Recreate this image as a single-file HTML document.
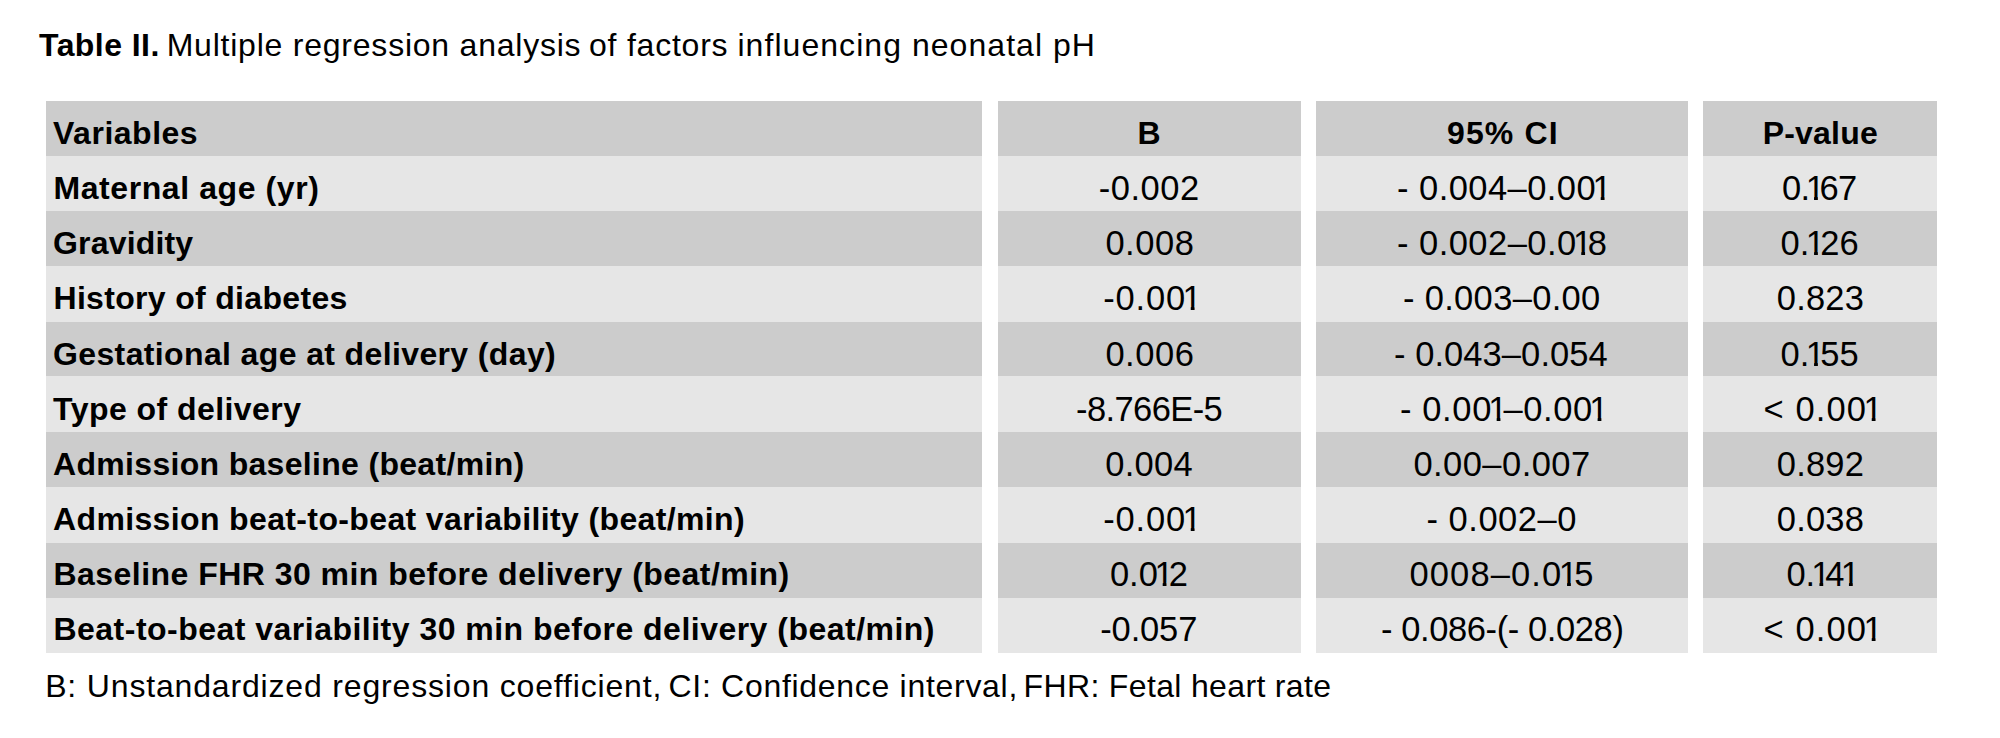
<!DOCTYPE html>
<html lang="en"><head><meta charset="utf-8"><title>Table II. Multiple regression analysis of factors influencing neonatal pH</title>
<style>
html,body{margin:0;padding:0;background:#fff;}
body{width:2000px;height:738px;position:relative;overflow:hidden;font-family:"Liberation Sans",sans-serif;font-size:32px;color:#000;}
.c{position:absolute;}
.d{background:#cccccc;}
.l{background:#e6e6e6;}
.t{position:absolute;white-space:pre;line-height:40px;height:40px;font-weight:400;}
.b{font-weight:700;}
.n{font-size:34.5px;}
.n i{font-style:normal;display:inline-block;margin:0 -4.75px 0 -3.6px;clip-path:polygon(0 0,100% 0,100% 28.7px,12.1px 28.7px,12.1px 40px,8.3px 40px,8.3px 28.7px,0 28.7px);}
</style></head><body>
<div class="c d" style="left:46px;top:101px;width:936px;height:55px"></div>
<div class="c d" style="left:998px;top:101px;width:303px;height:55px"></div>
<div class="c d" style="left:1316px;top:101px;width:372px;height:55px"></div>
<div class="c d" style="left:1703px;top:101px;width:234px;height:55px"></div>
<div class="c l" style="left:46px;top:156px;width:936px;height:55px"></div>
<div class="c l" style="left:998px;top:156px;width:303px;height:55px"></div>
<div class="c l" style="left:1316px;top:156px;width:372px;height:55px"></div>
<div class="c l" style="left:1703px;top:156px;width:234px;height:55px"></div>
<div class="c d" style="left:46px;top:211px;width:936px;height:55px"></div>
<div class="c d" style="left:998px;top:211px;width:303px;height:55px"></div>
<div class="c d" style="left:1316px;top:211px;width:372px;height:55px"></div>
<div class="c d" style="left:1703px;top:211px;width:234px;height:55px"></div>
<div class="c l" style="left:46px;top:266px;width:936px;height:56px"></div>
<div class="c l" style="left:998px;top:266px;width:303px;height:56px"></div>
<div class="c l" style="left:1316px;top:266px;width:372px;height:56px"></div>
<div class="c l" style="left:1703px;top:266px;width:234px;height:56px"></div>
<div class="c d" style="left:46px;top:322px;width:936px;height:54px"></div>
<div class="c d" style="left:998px;top:322px;width:303px;height:54px"></div>
<div class="c d" style="left:1316px;top:322px;width:372px;height:54px"></div>
<div class="c d" style="left:1703px;top:322px;width:234px;height:54px"></div>
<div class="c l" style="left:46px;top:376px;width:936px;height:56px"></div>
<div class="c l" style="left:998px;top:376px;width:303px;height:56px"></div>
<div class="c l" style="left:1316px;top:376px;width:372px;height:56px"></div>
<div class="c l" style="left:1703px;top:376px;width:234px;height:56px"></div>
<div class="c d" style="left:46px;top:432px;width:936px;height:55px"></div>
<div class="c d" style="left:998px;top:432px;width:303px;height:55px"></div>
<div class="c d" style="left:1316px;top:432px;width:372px;height:55px"></div>
<div class="c d" style="left:1703px;top:432px;width:234px;height:55px"></div>
<div class="c l" style="left:46px;top:487px;width:936px;height:56px"></div>
<div class="c l" style="left:998px;top:487px;width:303px;height:56px"></div>
<div class="c l" style="left:1316px;top:487px;width:372px;height:56px"></div>
<div class="c l" style="left:1703px;top:487px;width:234px;height:56px"></div>
<div class="c d" style="left:46px;top:543px;width:936px;height:55px"></div>
<div class="c d" style="left:998px;top:543px;width:303px;height:55px"></div>
<div class="c d" style="left:1316px;top:543px;width:372px;height:55px"></div>
<div class="c d" style="left:1703px;top:543px;width:234px;height:55px"></div>
<div class="c l" style="left:46px;top:598px;width:936px;height:55px"></div>
<div class="c l" style="left:998px;top:598px;width:303px;height:55px"></div>
<div class="c l" style="left:1316px;top:598px;width:372px;height:55px"></div>
<div class="c l" style="left:1703px;top:598px;width:234px;height:55px"></div>
<div class="t b" style="left:39.02px;top:25px;letter-spacing:0.445px">Table II. </div>
<div class="t" style="left:166.70px;top:25px;letter-spacing:0.773px">Multiple regression analysis </div>
<div class="t" style="left:588.98px;top:25px;letter-spacing:0.780px">of factors </div>
<div class="t" style="left:737.48px;top:25px;letter-spacing:1.046px">influencing neonatal pH</div>
<div class="t" style="left:45.20px;top:666px;letter-spacing:0.832px">B: Unstandardized regression coefficient, </div>
<div class="t" style="left:668.48px;top:666px;letter-spacing:0.705px">CI: Confidence interval, </div>
<div class="t" style="left:1023.58px;top:666px;letter-spacing:0.346px">FHR: Fetal heart rate</div>
<div class="t b" style="left:53.02px;top:113px;letter-spacing:0.513px">Variables</div>
<div class="t b" style="left:1137.46px;top:113px;letter-spacing:0.400px">B</div>
<div class="t b" style="left:1447.00px;top:113px;letter-spacing:1.120px">95% CI</div>
<div class="t b" style="left:1762.72px;top:113px;letter-spacing:0.190px">P-value</div>
<div class="t b" style="left:53.48px;top:168px;letter-spacing:0.580px">Maternal age (yr)</div>
<div class="t n" style="left:1098.74px;top:168px;letter-spacing:0.508px">-0.002</div>
<div class="t n" style="left:1397.12px;top:168px;letter-spacing:0.430px">- 0.004–0.00<i>1</i></div>
<div class="t n" style="left:1782.00px;top:168px;letter-spacing:-0.725px">0.<i>1</i>67</div>
<div class="t b" style="left:53.00px;top:223px;letter-spacing:0.175px">Gravidity</div>
<div class="t n" style="left:1105.38px;top:223px;letter-spacing:0.535px">0.008</div>
<div class="t n" style="left:1397.12px;top:223px;letter-spacing:0.445px">- 0.002–0.0<i>1</i>8</div>
<div class="t n" style="left:1780.50px;top:223px;letter-spacing:0.040px">0.<i>1</i>26</div>
<div class="t b" style="left:53.48px;top:278px;letter-spacing:0.320px">History of diabetes</div>
<div class="t n" style="left:1103.24px;top:278px;letter-spacing:0.832px">-0.00<i>1</i></div>
<div class="t n" style="left:1403.00px;top:278px;letter-spacing:0.318px">- 0.003–0.00</div>
<div class="t n" style="left:1776.74px;top:278px;letter-spacing:0.220px">0.823</div>
<div class="t b" style="left:53.00px;top:334px;letter-spacing:0.372px">Gestational age at delivery (day)</div>
<div class="t n" style="left:1105.38px;top:334px;letter-spacing:0.535px">0.006</div>
<div class="t n" style="left:1393.98px;top:334px;letter-spacing:0.070px">- 0.043–0.054</div>
<div class="t n" style="left:1780.50px;top:334px;letter-spacing:0.040px">0.<i>1</i>55</div>
<div class="t b" style="left:53.02px;top:389px;letter-spacing:0.448px">Type of delivery</div>
<div class="t n" style="left:1076.12px;top:389px;letter-spacing:-0.613px">-8.766E-5</div>
<div class="t n" style="left:1399.98px;top:389px;letter-spacing:0.625px">- 0.00<i>1</i>–0.00<i>1</i></div>
<div class="t n" style="left:1763.60px;top:389px;letter-spacing:1.090px">&lt; 0.00<i>1</i></div>
<div class="t b" style="left:53.00px;top:444px;letter-spacing:0.316px">Admission baseline (beat/min)</div>
<div class="t n" style="left:1105.36px;top:444px;letter-spacing:0.220px">0.004</div>
<div class="t n" style="left:1413.38px;top:444px;letter-spacing:0.460px">0.00–0.007</div>
<div class="t n" style="left:1776.74px;top:444px;letter-spacing:0.220px">0.892</div>
<div class="t b" style="left:53.00px;top:499px;letter-spacing:0.363px">Admission beat-to-beat variability (beat/min)</div>
<div class="t n" style="left:1103.24px;top:499px;letter-spacing:0.832px">-0.00<i>1</i></div>
<div class="t n" style="left:1426.50px;top:499px;letter-spacing:0.512px">- 0.002–0</div>
<div class="t n" style="left:1776.74px;top:499px;letter-spacing:0.220px">0.038</div>
<div class="t b" style="left:53.48px;top:554px;letter-spacing:0.464px">Baseline FHR 30 min before delivery (beat/min)</div>
<div class="t n" style="left:1109.88px;top:554px;letter-spacing:0.040px">0.0<i>1</i>2</div>
<div class="t n" style="left:1409.50px;top:554px;letter-spacing:1.120px">0008–0.0<i>1</i>5</div>
<div class="t n" style="left:1786.50px;top:554px;letter-spacing:-0.275px">0.<i>1</i>4<i>1</i></div>
<div class="t b" style="left:53.48px;top:609px;letter-spacing:0.482px">Beat-to-beat variability 30 min before delivery (beat/min)</div>
<div class="t n" style="left:1100.24px;top:609px;letter-spacing:-0.140px">-0.057</div>
<div class="t n" style="left:1381.00px;top:609px;letter-spacing:-0.399px">- 0.086-(- 0.028)</div>
<div class="t n" style="left:1763.60px;top:609px;letter-spacing:1.090px">&lt; 0.00<i>1</i></div>
</body></html>
